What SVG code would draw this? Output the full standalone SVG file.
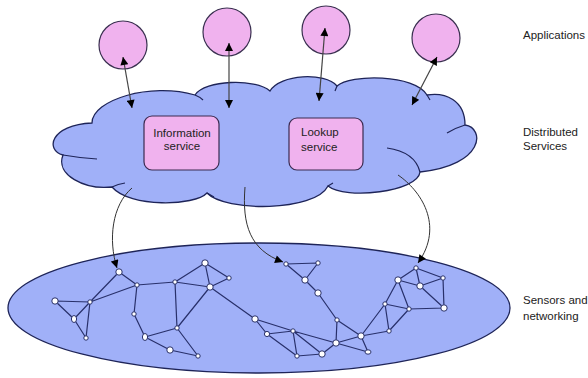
<svg xmlns="http://www.w3.org/2000/svg" width="588" height="378" viewBox="0 0 588 378">
<style>
.lbl{font-family:"Liberation Sans",Arial,sans-serif;font-size:11.5px;fill:#222}
.app{fill:#F0B2EE;stroke:#3a3050;stroke-width:1.2}
.box{fill:#F0B2EE;stroke:#3a2a50;stroke-width:1.2}
.blue{fill:#A0B0F8;stroke:#1e2458;stroke-width:1.3}
.crease{fill:none;stroke:#1e2458;stroke-width:1.2}
.arr{stroke:#444;stroke-width:1.2;fill:none;marker-start:url(#ah);marker-end:url(#ah)}
.cur{stroke:#333;stroke-width:1;fill:none;marker-end:url(#ah)}
.e{stroke:#28306a;stroke-width:1.2;fill:none}
.n{fill:#fff;stroke:#28306a;stroke-width:1}
</style>
<defs>
<marker id="ah" viewBox="0 0 10 10" refX="10" refY="5" markerWidth="9" markerHeight="8" markerUnits="userSpaceOnUse" orient="auto-start-reverse">
<path d="M0,0 L10,5 L0,10 Z" fill="#000"/>
</marker>
</defs>
<rect width="588" height="378" fill="#fff"/>
<g id="sensor-network-ellipse">
<ellipse class="blue" cx="259" cy="308" rx="251" ry="65"/>
</g>
<g id="distributed-cloud">
<path class="blue" d="M92,123 C92,100 150,82 195,95 C205,80 255,78 270,91 C280,74 325,72 337,86 C350,74 415,74 427,95 C445,92 465,100 465,125 C485,128 485,165 420,172 C418,192 345,200 328,186 C315,212 225,212 207,193 C195,206 130,208 112,187 C85,190 55,175 63,155 C45,150 50,125 92,123 Z"/>
<path class="crease" d="M63,155 Q80,158 97,159 M195,95 Q200,97 203,100 M337,86 L335,91 M427,95 L430,100 M465,125 Q455,128 447,133 M387,148 Q415,152 420,172 M328,186 L333,183 M207,193 L214,197 M112,187 Q118,184 125,183"/>
</g>
<g id="app1"><circle class="app" cx="123" cy="45" r="24"/></g>
<g id="app2"><circle class="app" cx="227" cy="32" r="24"/></g>
<g id="app3"><circle class="app" cx="326" cy="30" r="24"/></g>
<g id="app4"><circle class="app" cx="436" cy="38" r="24"/></g>
<g id="information-service">
<rect class="box" x="144" y="116" width="75" height="54" rx="8"/>
<text class="lbl" x="182" y="137" text-anchor="middle">Information</text>
<text class="lbl" x="182" y="150" text-anchor="middle">service</text>
</g>
<g id="lookup-service">
<rect class="box" x="289" y="118" width="74" height="52" rx="8"/>
<text class="lbl" x="301" y="136">Lookup</text>
<text class="lbl" x="301" y="151">service</text>
</g>
<g id="labels">
<text class="lbl" x="523" y="39">Applications</text>
<text class="lbl" x="523" y="136">Distributed</text>
<text class="lbl" x="523" y="150">Services</text>
<text class="lbl" x="523" y="304">Sensors and</text>
<text class="lbl" x="523" y="320">networking</text>
</g>
<g id="connectors">
<line class="arr" x1="123" y1="57" x2="132" y2="108"/>
<line class="arr" x1="229" y1="43" x2="229" y2="108"/>
<line class="arr" x1="325" y1="28" x2="319" y2="101"/>
<line class="arr" x1="437" y1="57" x2="412" y2="105"/>
<path class="cur" d="M132,188 C112,205 108,240 117,268"/>
<path class="cur" d="M245,187 C242,225 250,250 283,262"/>
<path class="cur" d="M398,175 C420,190 445,225 418,263"/>
</g>
<g id="network-links">
<path class="e" d="M119,272 L137,285 M119,272 L90,302 M137,285 L90,302 M55,301 L90,302 M55,301 L74,319 M90,302 L74,319 M74,319 L86,338 M90,302 L86,338 M137,285 L175,282 M137,285 L134,314 M134,314 L145,337 M145,337 L177,328 M145,337 L170,350 M170,350 L198,356 M177,328 L198,356 M175,282 L177,328 M175,282 L205,263 M175,282 L210,287 M205,263 L210,287 M205,263 L229,278 M229,278 L210,287 M177,328 L210,287 M210,287 L255,319 M255,319 L267,334 M255,319 L293,331 M293,331 L336,343 M267,334 L293,331 M267,334 L297,356 M293,331 L297,356 M293,331 L322,354 M297,356 L322,354 M322,354 L336,343 M336,343 L337,320 M337,320 L318,293 M318,293 L305,280 M305,280 L286,264 M305,280 L318,263 M286,264 L318,263 M337,320 L361,336 M336,343 L361,336 M336,343 L368,352 M361,336 L368,352 M361,336 L385,304 M361,336 L389,331 M385,304 L389,331 M385,304 L398,280 M385,304 L409,309 M389,331 L409,309 M398,280 L416,268 M398,280 L420,286 M398,280 L409,309 M416,268 L420,286 M416,268 L443,278 M420,286 L443,278 M420,286 L444,308 M443,278 L444,308 M409,309 L444,308"/>
</g>
<g id="sensor-nodes">
<g id="s-a"><circle class="n" cx="119" cy="272" r="3.2"/></g>
<g id="s-b"><circle class="n" cx="137" cy="285" r="2.2"/></g>
<g id="s-c"><circle class="n" cx="175" cy="282" r="2.2"/></g>
<g id="s-d"><circle class="n" cx="55" cy="301" r="3.2"/></g>
<g id="s-e"><circle class="n" cx="90" cy="302" r="2.2"/></g>
<g id="s-f"><ellipse class="n" cx="74" cy="319" rx="2.6" ry="3.5"/></g>
<g id="s-g"><circle class="n" cx="86" cy="338" r="2.2"/></g>
<g id="s-h"><circle class="n" cx="134" cy="314" r="2.2"/></g>
<g id="s-i"><ellipse class="n" cx="145" cy="337" rx="2.6" ry="3.5"/></g>
<g id="s-j"><circle class="n" cx="177" cy="328" r="2.2"/></g>
<g id="s-k"><circle class="n" cx="170" cy="350" r="3.2"/></g>
<g id="s-l"><circle class="n" cx="198" cy="356" r="2.2"/></g>
<g id="s-m"><circle class="n" cx="205" cy="263" r="3.2"/></g>
<g id="s-n"><circle class="n" cx="229" cy="278" r="2.2"/></g>
<g id="s-o"><circle class="n" cx="210" cy="287" r="3.2"/></g>
<g id="s-p"><circle class="n" cx="286" cy="264" r="2.2"/></g>
<g id="s-q"><circle class="n" cx="318" cy="263" r="2.2"/></g>
<g id="s-r"><circle class="n" cx="305" cy="280" r="3.2"/></g>
<g id="s-s"><circle class="n" cx="318" cy="293" r="3.2"/></g>
<g id="s-t"><circle class="n" cx="255" cy="319" r="3.2"/></g>
<g id="s-u"><circle class="n" cx="267" cy="334" r="2.6"/></g>
<g id="s-v"><circle class="n" cx="293" cy="331" r="2.2"/></g>
<g id="s-w"><circle class="n" cx="337" cy="320" r="2.2"/></g>
<g id="s-x"><circle class="n" cx="336" cy="343" r="3.2"/></g>
<g id="s-y"><circle class="n" cx="297" cy="356" r="2.2"/></g>
<g id="s-z"><circle class="n" cx="322" cy="354" r="3.2"/></g>
<g id="s-aa"><circle class="n" cx="361" cy="336" r="3.2"/></g>
<g id="s-ab"><ellipse class="n" cx="368" cy="352" rx="3" ry="2.2"/></g>
<g id="s-ac"><circle class="n" cx="389" cy="331" r="2.2"/></g>
<g id="s-ad"><circle class="n" cx="385" cy="304" r="2.2"/></g>
<g id="s-ae"><circle class="n" cx="398" cy="280" r="3.2"/></g>
<g id="s-af"><circle class="n" cx="416" cy="268" r="2.2"/></g>
<g id="s-ag"><circle class="n" cx="420" cy="286" r="3.2"/></g>
<g id="s-ah"><circle class="n" cx="443" cy="278" r="2.2"/></g>
<g id="s-ai"><circle class="n" cx="409" cy="309" r="2.2"/></g>
<g id="s-aj"><circle class="n" cx="444" cy="308" r="3.2"/></g>
</g>
</svg>
